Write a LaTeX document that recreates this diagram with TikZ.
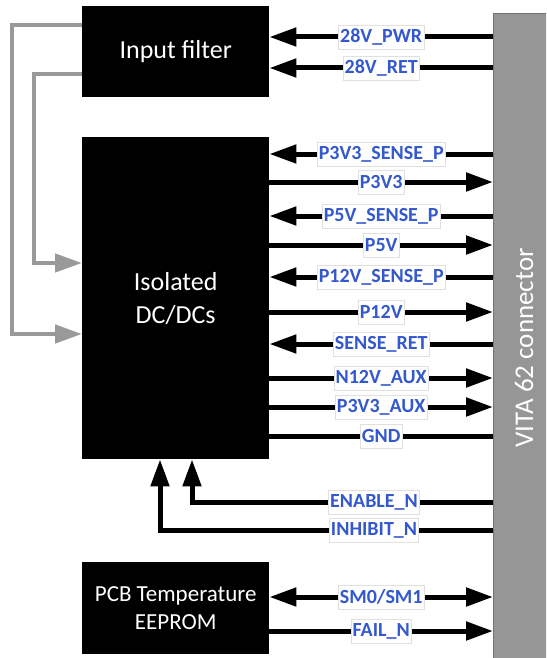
\documentclass[tikz,border=0pt]{standalone}
\usepackage{fontspec}
\setmainfont{Carlito}
\usetikzlibrary{arrows.meta}
\definecolor{sigblue}{RGB}{52,88,205}
\definecolor{fbgray}{RGB}{153,153,153}
\definecolor{conngray}{RGB}{150,150,150}

\begin{document}
\begin{tikzpicture}[x=1pt,y=-1pt,
  >={Triangle[length=27pt,width=18pt]},
  blk/.style={fill=black,text=white,anchor=north west,minimum width=187pt,inner sep=0pt,align=center},
  sig/.style={line width=5pt},
  fb/.style={line width=4.5pt,draw=fbgray,->},
  lbl/.style={fill=white,draw=black!12,line width=.5pt,text=sigblue,font=\fontsize{20}{20}\selectfont\bfseries,inner xsep=1.5pt,inner ysep=0pt,minimum height=24pt}]
\path[use as bounding box] (0,0) rectangle (546,658);
\clip (0,0) rectangle (546,658);
\node[blk,minimum height=91pt,font=\fontsize{26}{32}\selectfont] (filt) at (82,6) {Input filter};
\node[blk,minimum height=322pt,font=\fontsize{26}{33}\selectfont] (iso) at (82,137) {Isolated\\DC/DCs};
\node[blk,minimum height=92pt,font=\fontsize{23}{28}\selectfont] (eeprom) at (82,562) {PCB Temperature\\EEPROM};
\node[fill=conngray,draw=black!55,line width=.6pt,anchor=north west,minimum width=57pt,minimum height=670pt,inner sep=0pt] (vita) at (493,13) {};
\node[rotate=90,text=white,font=\fontsize{27}{27}\selectfont,inner sep=0pt] (vitatxt) at (524,348) {VITA 62 connector};
% input side
\draw[fb] (filt.west |- 0,25) -- (12,25) -- (12,334) -- (iso.west |- 0,334);
\draw[fb] (filt.west |- 0,74) -- (34,74) -- (34,263) -- (iso.west |- 0,263);
\draw[sig,<-] (filt.east |- 0,37) -- (vita.west |- 0,37) node[lbl,midway] (pwr) {28V\_PWR};
\draw[sig,<-] (filt.east |- 0,68) -- (vita.west |- 0,68) node[lbl,midway] (ret) {28V\_RET};
% converter outputs and sense
\draw[sig,<-] (iso.east |- 0,154) -- (vita.west |- 0,154) node[lbl,midway] (p3sns) {P3V3\_SENSE\_P};
\draw[sig,->] (iso.east |- 0,182) -- (vita.west |- 0,182) node[lbl,midway] (p3) {P3V3};
\draw[sig,<-] (iso.east |- 0,216) -- (vita.west |- 0,216) node[lbl,midway] (p5sns) {P5V\_SENSE\_P};
\draw[sig,->] (iso.east |- 0,245) -- (vita.west |- 0,245) node[lbl,midway] (p5) {P5V};
\draw[sig,<-] (iso.east |- 0,277) -- (vita.west |- 0,277) node[lbl,midway] (p12sns) {P12V\_SENSE\_P};
\draw[sig,->] (iso.east |- 0,312) -- (vita.west |- 0,312) node[lbl,midway] (p12) {P12V};
\draw[sig,<-] (iso.east |- 0,344) -- (vita.west |- 0,344) node[lbl,midway] (sret) {SENSE\_RET};
\draw[sig,->] (iso.east |- 0,378) -- (vita.west |- 0,378) node[lbl,midway] (n12aux) {N12V\_AUX};
\draw[sig,->] (iso.east |- 0,407) -- (vita.west |- 0,407) node[lbl,midway] (p3aux) {P3V3\_AUX};
\draw[sig] (iso.east |- 0,436) -- (vita.west |- 0,436) node[lbl,midway] (gnd) {GND};
% control
\draw[sig,->] (vita.west |- 0,502) -| (iso.south -| 192,0);
\draw[sig,->] (vita.west |- 0,530) -| (iso.south -| 160,0);
\node[lbl] (enable) at (374,502) {ENABLE\_N};
\node[lbl] (inhibit) at (374,530) {INHIBIT\_N};
% eeprom
\draw[sig,<->] (eeprom.east |- 0,597) -- (vita.west |- 0,597) node[lbl,midway] (sm) {SM0/SM1};
\draw[sig,->] (eeprom.east |- 0,631) -- (vita.west |- 0,631) node[lbl,midway] (fail) {FAIL\_N};
\end{tikzpicture}
\end{document}
